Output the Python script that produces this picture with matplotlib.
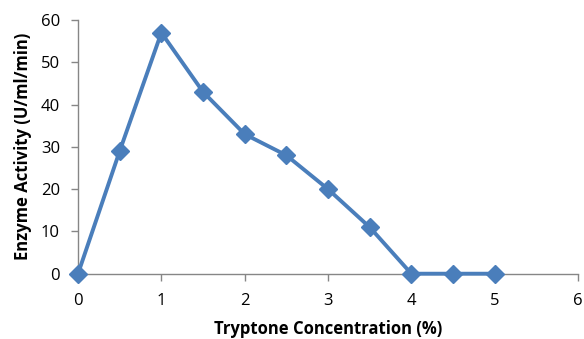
import matplotlib
matplotlib.use("Agg")
import matplotlib.pyplot as plt

tryptone = [0, 0.5, 1, 1.5, 2, 2.5, 3, 3.5, 4, 4.5, 5]
activity = [0, 29, 57, 43, 33, 28, 20, 11, 0, 0, 0]
xticks = [0, 1, 2, 3, 4, 5, 6]
yticks = [0, 10, 20, 30, 40, 50, 60]

plt.rcParams['font.family'] = ['Open Sans', 'DejaVu Sans']

fig = plt.figure(figsize=(5.84, 3.39), dpi=100)
ax = fig.add_axes([0.1336, 0.1926, 0.8561, 0.7484])

color = '#4A7EBB'
ax.plot(tryptone, activity, color=color, lw=2.8, marker='D', markersize=9,
        markerfacecolor=color, markeredgecolor=color, clip_on=False, zorder=3)

ax.set_xlim(0, 6)
ax.set_ylim(0, 60)
ax.set_xticks(xticks)
ax.set_yticks(yticks)
ax.tick_params(axis='both', labelsize=12, color='#868686', length=5, width=1)
ax.tick_params(axis='y', pad=8)
ax.tick_params(axis='x', pad=9)
for s in ['top', 'right']:
    ax.spines[s].set_visible(False)
for s in ['left', 'bottom']:
    ax.spines[s].set_color('#868686')
    ax.spines[s].set_linewidth(1)

ax.set_xlabel('Tryptone Concentration (%)', fontsize=12, fontweight='bold', labelpad=8)
ax.set_ylabel('Enzyme Activity (U/ml/min)', fontsize=12, fontweight='bold', labelpad=6)

fig.savefig('out.png', dpi=100)
